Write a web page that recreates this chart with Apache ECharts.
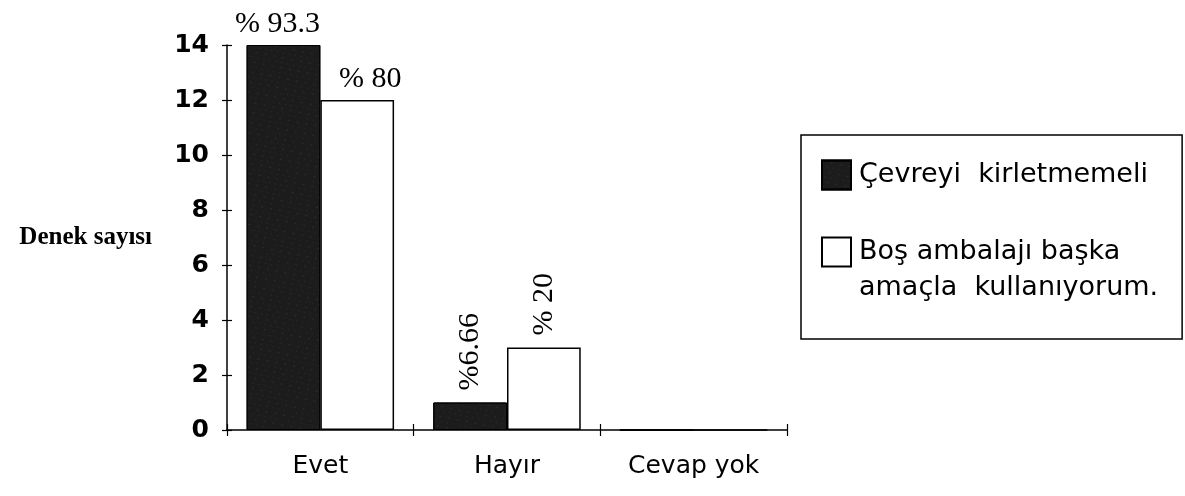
<!DOCTYPE html>
<html>
<head>
<meta charset="utf-8">
<script src="https://cdn.jsdelivr.net/npm/echarts@6/dist/echarts.min.js"></script>
<style>
  html, body { margin: 0; padding: 0; background: #fff; }
  #chart1 { width: 1185px; height: 496px; }
</style>
</head>
<body>
<div id="chart1"></div>
<script>
// datos
const categorias = ['Evet', 'Hayır', 'Cevap yok'];
const nombresSeries = ['Çevreyi  kirletmemeli', 'Boş ambalajı başka\namaçla  kullanıyorum.'];
const valoresOscuro = [14, 1, 0];
const valoresBlanco = [12, 3, 0];
const porcentajesOscuro = ['% 93.3', '%6.66', ''];
const porcentajesBlanco = ['% 80', '% 20', ''];
const ticksY = [0, 2, 4, 6, 8, 10, 12, 14];

const sans = '"DejaVu Sans", sans-serif';
const serif = '"Liberation Serif", "Times New Roman", serif';

// etiqueta de cada barra (la de "Hayır" va girada)
const etiqueta = (texto, i, desplazamiento) => {
    if (!texto) return { show: false };
    if (i === 1) {
        return {
            show: true, position: 'top', rotate: 90, align: 'left', verticalAlign: 'middle',
            distance: 12, formatter: texto
        };
    }
    return { show: true, position: 'top', distance: 6, offset: [desplazamiento, 0], formatter: texto };
};

const datosOscuro = valoresOscuro.map((v, i) => ({ value: v, label: etiqueta(porcentajesOscuro[i], i, -6) }));
const datosBlanco = valoresBlanco.map((v, i) => ({ value: v, label: etiqueta(porcentajesBlanco[i], i, 13) }));

const ejeY = {
    type: 'value',
    position: 'left',
    min: ticksY[0],
    max: ticksY[ticksY.length - 1],
    interval: 2,
    splitLine: { show: false }
};

const option = {
    animation: false,
    backgroundColor: '#fff',
    grid: { left: 227, right: 398, top: 45, bottom: 66 },
    legend: {
        orient: 'vertical',
        left: 801,
        top: 135,
        padding: [22, 24, 33, 20],
        itemWidth: 29,
        itemHeight: 29,
        itemGap: 5,
        icon: 'rect',
        borderColor: '#000',
        borderWidth: 1.5,
        selectedMode: false,
        // la leyenda de dos líneas: el cuadro alineado con la primera línea
        formatter: name => (name.indexOf('\n') >= 0 ? '{s|}\n' + name : name),
        textStyle: {
            fontFamily: sans, fontSize: 27, color: '#000', lineHeight: 36,
            padding: [0, 0, 0, 3],
            rich: { s: { height: 36, lineHeight: 36 } }
        },
        data: nombresSeries
    },
    xAxis: [
        {
            type: 'category',
            data: categorias,
            position: 'bottom',
            axisLine: { lineStyle: { color: '#000', width: 1.5 } },
            axisTick: { show: true, length: 6, lineStyle: { color: '#000', width: 1.2 } },
            axisLabel: { color: '#000', fontFamily: sans, fontSize: 25, margin: 24 }
        },
        {
            // segunda pasada para que las marcas crucen el eje
            type: 'category',
            data: categorias,
            position: 'bottom',
            axisLine: { show: false },
            axisTick: { show: true, inside: true, length: 6, lineStyle: { color: '#000', width: 1.2 } },
            axisLabel: { show: false }
        }
    ],
    yAxis: [
        Object.assign({}, ejeY, {
            name: 'Denek sayısı',
            nameLocation: 'middle',
            nameRotate: 0,
            nameGap: 75,
            nameTextStyle: { color: '#000', fontFamily: serif, fontWeight: 'bold', fontSize: 25 },
            axisLine: { show: true, lineStyle: { color: '#000', width: 1.5 } },
            axisTick: { show: true, length: 5, lineStyle: { color: '#000', width: 1.2 } },
            axisLabel: { color: '#000', fontFamily: sans, fontWeight: 'bold', fontSize: 25, margin: 18 }
        }),
        Object.assign({}, ejeY, {
            axisLine: { show: false },
            axisTick: { show: true, inside: true, length: 5, lineStyle: { color: '#000', width: 1.2 } },
            axisLabel: { show: false }
        })
    ],
    series: [
        {
            name: nombresSeries[0],
            type: 'bar',
            barGap: 0,
            barCategoryGap: '21%',
            data: datosOscuro,
            itemStyle: {
                color: '#1c1c1c',
                borderColor: '#000',
                borderWidth: 1,
                decal: {
                    symbol: 'rect',
                    symbolSize: 0.7,
                    color: 'rgba(170,170,170,0.35)',
                    dashArrayX: [[1, 5], [2, 7]],
                    dashArrayY: [1, 4],
                    rotation: 0.2
                }
            },
            label: { color: '#000', fontFamily: serif, fontSize: 30 }
        },
        {
            name: nombresSeries[1],
            type: 'bar',
            data: datosBlanco,
            itemStyle: { color: '#fff', borderColor: '#000', borderWidth: 1.5 },
            label: { color: '#000', fontFamily: serif, fontSize: 30 }
        }
    ]
};

const chart1 = echarts.init(document.getElementById('chart1'));
chart1.setOption(option);
</script>
</body>
</html>
